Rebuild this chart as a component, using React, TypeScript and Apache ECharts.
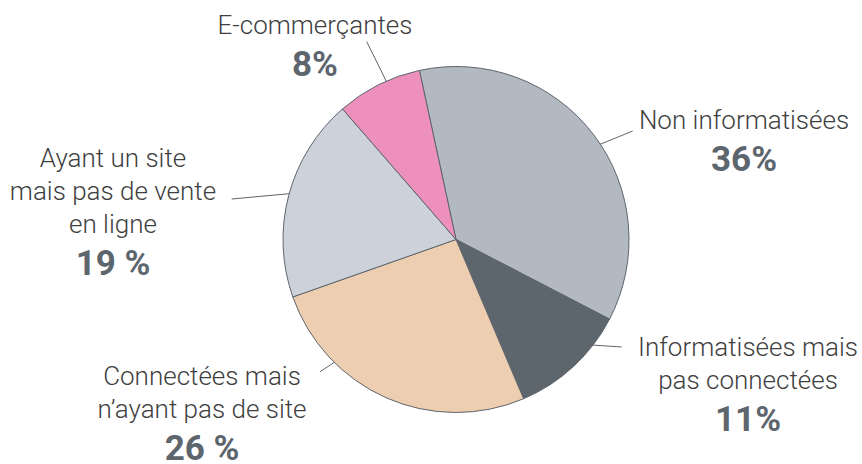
import React, { useEffect, useRef } from "react";
import * as echarts from "echarts";

const categories = [
  "Non informatisées",
  "Informatisées mais\npas connectées",
  "Connectées mais\nn’ayant pas de site",
  "Ayant un site\nmais pas de vente\nen ligne",
  "E-commerçantes",
];
const values = [36, 11, 26, 19, 8];
const pctLabels = ["36%", "11%", "26 %", "19 %", "8%"];
const colors = ["#b3b9c1", "#5d656d", "#edceb0", "#cdd1d9", "#ed90bd"];

// label anchor (center x, top y) and leader line points, per slice
const labelPos: [number, number][] = [
  [744, 103],
  [748, 330],
  [202, 359],
  [113, 141],
  [315, 8],
];
const leaderLines: [number, number][][] = [
  [[551.7, 164.3], [592, 147.6], [632.7, 131]],
  [[591.7, 345], [606.7, 346], [621.7, 347]],
  [[349.3, 352.7], [334.6, 362.2], [320, 371.7]],
  [[318.3, 191], [275, 195], [231.7, 199]],
  [[395, 99.3], [381, 70.5], [366.7, 41.7]],
];

export default function App() {
  const ref = useRef<HTMLDivElement>(null);
  useEffect(() => {
    if (!ref.current) return;
    const chart = echarts.init(ref.current, null, { renderer: "svg" });
    chart.setOption({
      animation: false,
      series: [
        {
          type: "pie",
          center: [456, 239.5],
          radius: 173,
          startAngle: 102.2,
          clockwise: true,
          data: categories.map((c, i) => ({
            name: c,
            value: values[i],
            itemStyle: { color: colors[i] },
          })),
          itemStyle: { borderColor: "#5d656d", borderWidth: 1 },
          emphasis: { disabled: true },
          label: {
            show: true,
            position: "outside",
            formatter: (p: any) => {
              const lines = categories[p.dataIndex]
                .split("\n")
                .map((l) => `{n|${l}}`)
                .join("\n");
              return `${lines}\n{p|${pctLabels[p.dataIndex]}}`;
            },
            align: "center",
            rich: {
              n: {
                fontFamily: "Roboto",
                fontWeight: 300,
                fontSize: 26,
                lineHeight: 33,
                color: "#3f3f3f",
                align: "center",
              },
              p: {
                fontFamily: "Roboto",
                fontWeight: 700,
                fontSize: 35,
                lineHeight: 46,
                color: "#5d656d",
                align: "center",
              },
            },
          },
          labelLine: {
            show: true,
            lineStyle: { color: "#5d656d", width: 1 },
          },
          labelLayout: (params: any) => {
            const i = params.dataIndex;
            return {
              x: labelPos[i][0],
              y: labelPos[i][1],
              align: "center",
              verticalAlign: "top",
              labelLinePoints: leaderLines[i],
            };
          },
        },
      ],
    });
    return () => chart.dispose();
  }, []);
  return (
    <div
      ref={ref}
      style={{ position: "absolute", left: 0, top: 0, width: 862, height: 464 }}
    />
  );
}
